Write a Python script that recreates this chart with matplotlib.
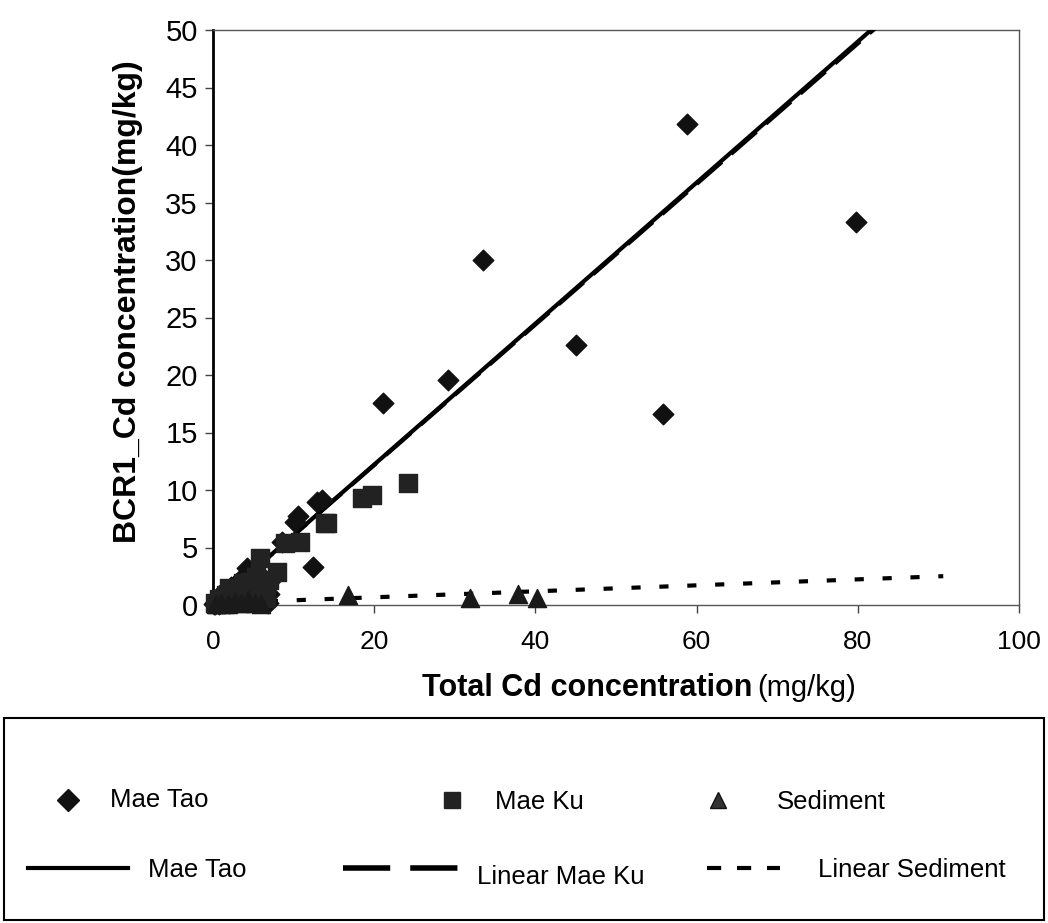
import numpy as np
import matplotlib
matplotlib.use("Agg")
import matplotlib.pyplot as plt
from matplotlib.lines import Line2D
from matplotlib.patches import Rectangle

# --- data ---
tao_x = [0.1, 0.2, 0.4, 0.6, 0.8, 0.9, 1.0, 1.2, 1.5, 1.8, 2.0, 2.2, 2.5, 2.8, 2.9, 3.3, 3.6,
         3.9, 4.2, 4.6, 4.8, 5.0, 5.4, 5.6, 5.8, 6.2, 6.5, 6.8, 7.0, 7.3, 8.5, 10.2, 10.5,
         12.4, 12.9, 13.5, 21.1, 29.2, 33.5, 45.0, 55.8, 58.8, 79.8]
tao_y = [0.05, 0.1, 0.3, 0.2, 0.1, 0.6, 1.0, 0.4, 1.2, 0.8, 0.2, 1.6, 0.5, 1.0, 1.8, 2.2, 1.0,
         0.6, 3.2, 1.6, 2.5, 0.7, 2.0, 2.8, 1.2, 0.4, 1.8, 0.2, 1.0, 2.3, 5.5, 7.2, 7.7,
         3.3, 9.0, 9.1, 17.6, 19.6, 30.0, 22.6, 16.6, 41.8, 33.3]

ku_x = [0.3, 0.5, 0.7, 1.1, 1.4, 1.6, 2.0, 2.3, 2.6, 3.1, 3.4, 3.7, 4.0, 4.3, 4.6, 4.9, 5.1,
        5.3, 5.8, 6.2, 6.6, 7.0, 7.9, 8.9, 10.8, 13.9, 14.2, 18.5, 19.7, 24.2]
ku_y = [0.2, 0.05, 0.5, 0.3, 0.1, 0.9, 1.5, 0.3, 0.6, 1.1, 0.2, 1.9, 1.4, 0.8, 2.0, 1.3, 0.5,
        2.4, 4.1, 1.6, 0.6, 2.2, 2.9, 5.4, 5.5, 7.1, 7.1, 9.3, 9.6, 10.6]

sed_x = [0.4, 1.0, 1.8, 2.7, 3.5, 4.4, 5.2, 6.0, 16.8, 31.9, 37.9, 40.2]
sed_y = [0.1, 0.2, 0.1, 0.3, 0.2, 0.4, 0.2, 0.1, 0.9, 0.6, 1.0, 0.6]

# trendlines (slope, intercept, x range)
tao_fit = (0.613, -0.05, 0.0, 100.0)
ku_fit = (0.611, -0.05, 0.0, 100.0)
sed_fit = (0.026, 0.15, 0.0, 90.6)

x_ticks = [0, 20, 40, 60, 80, 100]
y_ticks = [0, 5, 10, 15, 20, 25, 30, 35, 40, 45, 50]

FONT = ["Liberation Sans", "DejaVu Sans"]

fig = plt.figure(figsize=(10.48, 9.23), dpi=100)
W, H = 1048.0, 923.0
ax = fig.add_axes([213 / W, 1 - 605 / H, (1019 - 213) / W, (605 - 30) / H])


def trend(fit):
    k, b, x0, x1 = fit
    xs = np.array([x0, x1])
    return xs, k * xs + b


xs, ys = trend(tao_fit)
ax.plot(xs, ys, color="black", lw=3, solid_capstyle="butt", zorder=4)
xs, ys = trend(ku_fit)
ax.plot(xs, ys, color="black", lw=3, dashes=(8, 3), zorder=3)
xs, ys = trend(sed_fit)
ax.plot(xs, ys, color="black", lw=3, dashes=(2.2, 4.5), zorder=3)

ax.scatter(tao_x, tao_y, marker="D", s=110, color="#111111", zorder=5, clip_on=False)
ax.scatter(ku_x, ku_y, marker="s", s=150, color="#222222", zorder=5, clip_on=False)
ax.scatter(sed_x, sed_y, marker="^", s=170, color="#1a1a1a", zorder=5, clip_on=False)

ax.set_xlim(0, 100)
ax.set_ylim(0, 50)
ax.set_xticks(x_ticks)
ax.set_yticks(y_ticks)
ax.set_xticklabels([str(v) for v in x_ticks], family=FONT, fontsize=19)
ax.set_yticklabels([str(v) for v in y_ticks], family=FONT, fontsize=21)
ax.tick_params(axis="both", direction="out", length=6, width=1, color="#444444")
ax.tick_params(axis="x", pad=12)
ax.tick_params(axis="y", pad=5)
for side in ["top", "right", "bottom"]:
    ax.spines[side].set_linewidth(1)
    ax.spines[side].set_color("#555555")
ax.spines["left"].set_linewidth(2)

# overlay in pixel coordinates for labels and the legend box
ov = fig.add_axes([0, 0, 1, 1], zorder=-1)
ov.set_xlim(0, W)
ov.set_ylim(H, 0)
ov.axis("off")

ov.text(128, 302, "BCR1_Cd concentration(mg/kg)", rotation=90, ha="center", va="center",
        fontsize=23, fontweight="bold", family=FONT)
ov.text(752, 688, "Total Cd concentration", ha="right", va="center",
        fontsize=22, fontweight="bold", family=FONT)
ov.text(757, 688, "(mg/kg)", ha="left", va="center", fontsize=21, family=FONT)

ov.add_patch(Rectangle((4, 718), 1040, 202, fill=False, edgecolor="black", lw=1.5))

leg_fs = 18.5
ov.add_line(Line2D([68], [800], marker="D", ms=11, color="#111111"))
ov.text(110, 800, "Mae Tao", va="center", fontsize=leg_fs, family=FONT)
ov.add_line(Line2D([452], [800], marker="s", ms=11, color="#222222"))
ov.text(495, 802, "Mae Ku", va="center", fontsize=leg_fs, family=FONT)
ov.add_line(Line2D([718], [800], marker="^", ms=12, color="#333333",
                   markeredgecolor="#111111"))
ov.text(777, 802, "Sediment", va="center", fontsize=leg_fs, family=FONT)

ov.add_line(Line2D([28, 128], [868, 868], color="black", lw=3))
ov.text(148, 870, "Mae Tao", va="center", fontsize=leg_fs, family=FONT)
ov.add_line(Line2D([343, 458], [868, 868], color="black", lw=4, dashes=(8.5, 3.6)))
ov.text(477, 877, "Linear Mae Ku", va="center", fontsize=leg_fs, family=FONT)
ov.add_line(Line2D([707, 780], [868, 868], color="black", lw=3, dashes=(3.4, 3.8)))
ov.text(818, 870, "Linear Sediment", va="center", fontsize=leg_fs, family=FONT)

fig.savefig("out.png", dpi=100)
